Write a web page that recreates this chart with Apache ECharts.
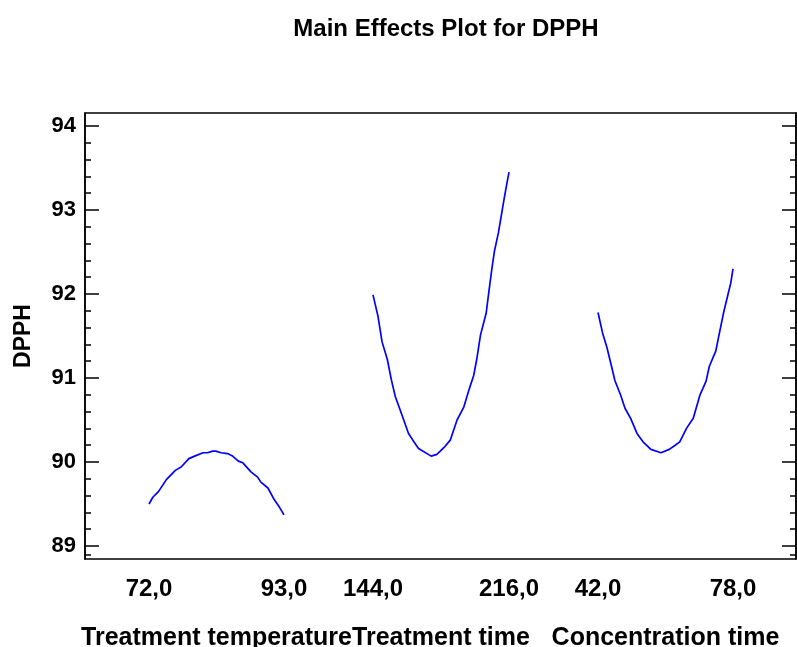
<!DOCTYPE html>
<html>
<head>
<meta charset="utf-8">
<script src="https://cdn.jsdelivr.net/npm/echarts@6/dist/echarts.min.js"></script>
<style>html,body{margin:0;padding:0;background:#fff}#c{width:797px;height:647px}</style>
</head>
<body>
<div id="c"></div>
<script>
// ---- data ----
var titleText = 'Main Effects Plot for DPPH';
var yName = 'DPPH';
var factorNames = ['Treatment temperature', 'Treatment time', 'Concentration time'];

var tempX = [72, 72.6, 73.5, 74.7, 76.1, 77.0, 78.2, 79.1, 80.4, 81.1, 81.9, 82.4, 83.2, 84.2, 85.0, 85.9, 86.6, 87.9, 88.9, 89.4, 90.5, 91.5, 92.3, 93];
var tempY = [89.50, 89.58, 89.65, 89.79, 89.90, 89.94, 90.04, 90.07, 90.11, 90.11, 90.13, 90.13, 90.11, 90.10, 90.07, 90.01, 89.99, 89.88, 89.82, 89.76, 89.69, 89.55, 89.46, 89.37];

var timeX = [144, 146.6, 148.8, 151.6, 153.7, 155.8, 159.0, 162.8, 165.1, 168.1, 174.8, 177.8, 181.5, 184.9, 188.5, 192.0, 194.7, 197.3, 198.9, 200.9, 203.9, 205.3, 207.1, 208.3, 210.4, 213.1, 214.5, 216];
var timeY = [91.99, 91.74, 91.43, 91.22, 90.98, 90.78, 90.58, 90.34, 90.26, 90.16, 90.07, 90.09, 90.17, 90.26, 90.50, 90.65, 90.85, 91.03, 91.22, 91.51, 91.77, 92.02, 92.33, 92.51, 92.73, 93.09, 93.27, 93.45];

var concX = [42, 43.2, 44.4, 45.6, 46.5, 48.0, 49.2, 50.7, 52.4, 54.0, 56.1, 58.8, 61.0, 62.3, 63.8, 65.6, 67.4, 69.2, 70.8, 71.7, 73.4, 74.4, 75.5, 76.8, 77.4, 78];
var concY = [91.78, 91.54, 91.36, 91.14, 90.97, 90.80, 90.64, 90.52, 90.34, 90.24, 90.15, 90.11, 90.15, 90.19, 90.24, 90.40, 90.52, 90.80, 90.96, 91.14, 91.32, 91.54, 91.78, 92.02, 92.13, 92.30];

var yMajorTicks = [89, 90, 91, 92, 93, 94];
var yMinorTicks = [88.9, 89.2, 89.4, 89.6, 89.8, 90.2, 90.4, 90.6, 90.8, 91.2, 91.4, 91.6, 91.8, 92.2, 92.4, 92.6, 92.8, 93.2, 93.4, 93.6, 93.8];
var tempTicks = [72, 93];
var timeTicks = [144, 216];
var concTicks = [42, 78];
var yMin = 88.845, yMax = 94.155;

// ---- chart ----
var FONT = '"Liberation Sans", Arial, Helvetica, sans-serif';
function zip(a, b) { return a.map(function (v, i) { return [v, b[i]]; }); }
function fmt(v) { return v.toFixed(1).replace('.', ','); }

var panels = [
  { left: 149, width: 135, xs: tempX, ys: tempY, ticks: tempTicks, name: factorNames[0] },
  { left: 373, width: 136, xs: timeX, ys: timeY, ticks: timeTicks, name: factorNames[1] },
  { left: 598, width: 135, xs: concX, ys: concY, ticks: concTicks, name: factorNames[2] }
];

var grids = [{ left: 85, top: 113, width: 711, height: 446, show: true, borderColor: '#000', borderWidth: 1.5, backgroundColor: 'transparent', containLabel: false, outerBoundsMode: 'none' }];
var xAxes = [{ gridIndex: 0, type: 'value', min: 0, max: 1, show: false }];
function yBase(extra) {
  var o = { type: 'value', min: yMin, max: yMax, splitLine: { show: false } };
  for (var k in extra) o[k] = extra[k];
  return o;
}
var yAxes = [
  yBase({
    gridIndex: 0, position: 'left',
    axisLine: { show: true, lineStyle: { color: '#000', width: 1.5 } },
    axisTick: { show: true, inside: true, length: 14, customValues: yMajorTicks, lineStyle: { color: '#000', width: 1.5 } },
    axisLabel: { show: true, customValues: yMajorTicks, margin: 9, color: '#000', fontFamily: FONT, fontWeight: 'bold', fontSize: 22 },
    name: yName, nameLocation: 'middle', nameRotate: 90, nameGap: 50,
    nameTextStyle: { color: '#000', fontFamily: FONT, fontWeight: 'bold', fontSize: 23 }
  }),
  yBase({
    gridIndex: 0, position: 'left',
    axisLine: { show: false },
    axisTick: { show: true, inside: true, length: 6, customValues: yMinorTicks, lineStyle: { color: '#000', width: 1.5 } },
    axisLabel: { show: false }
  }),
  yBase({
    gridIndex: 0, position: 'right',
    axisLine: { show: true, lineStyle: { color: '#000', width: 1.5 } },
    axisTick: { show: true, inside: true, length: 14, customValues: yMajorTicks, lineStyle: { color: '#000', width: 1.5 } },
    axisLabel: { show: false }
  }),
  yBase({
    gridIndex: 0, position: 'right',
    axisLine: { show: false },
    axisTick: { show: true, inside: true, length: 6, customValues: yMinorTicks, lineStyle: { color: '#000', width: 1.5 } },
    axisLabel: { show: false }
  })
];
var series = [];
panels.forEach(function (p, i) {
  grids.push({ left: p.left, width: p.width, top: 113, height: 446, containLabel: false, outerBoundsMode: 'none' });
  xAxes.push({
    gridIndex: i + 1, type: 'value', min: p.ticks[0], max: p.ticks[1],
    axisLine: { show: false }, axisTick: { show: false }, splitLine: { show: false },
    axisLabel: { show: true, customValues: p.ticks, formatter: fmt, margin: 18, color: '#000', fontFamily: FONT, fontWeight: 'bold', fontSize: 24 },
    name: p.name, nameLocation: 'middle', nameGap: 67,
    nameTextStyle: { color: '#000', fontFamily: FONT, fontWeight: 'bold', fontSize: 25 }
  });
  yAxes.push(yBase({ gridIndex: i + 1, show: false }));
  series.push({
    type: 'line', xAxisIndex: i + 1, yAxisIndex: 4 + i,
    data: zip(p.xs, p.ys), symbol: 'none', smooth: false,
    lineStyle: { color: '#0000ff', width: 1.7 }, silent: true
  });
});

var chart = echarts.init(document.getElementById('c'), null, { renderer: 'canvas' });
chart.setOption({
  animation: false,
  backgroundColor: '#fff',
  title: { text: titleText, left: 441, textAlign: 'center', top: 12,
    textStyle: { color: '#000', fontFamily: FONT, fontWeight: 'bold', fontSize: 24 } },
  grid: grids, xAxis: xAxes, yAxis: yAxes, series: series
});
</script>
</body>
</html>
